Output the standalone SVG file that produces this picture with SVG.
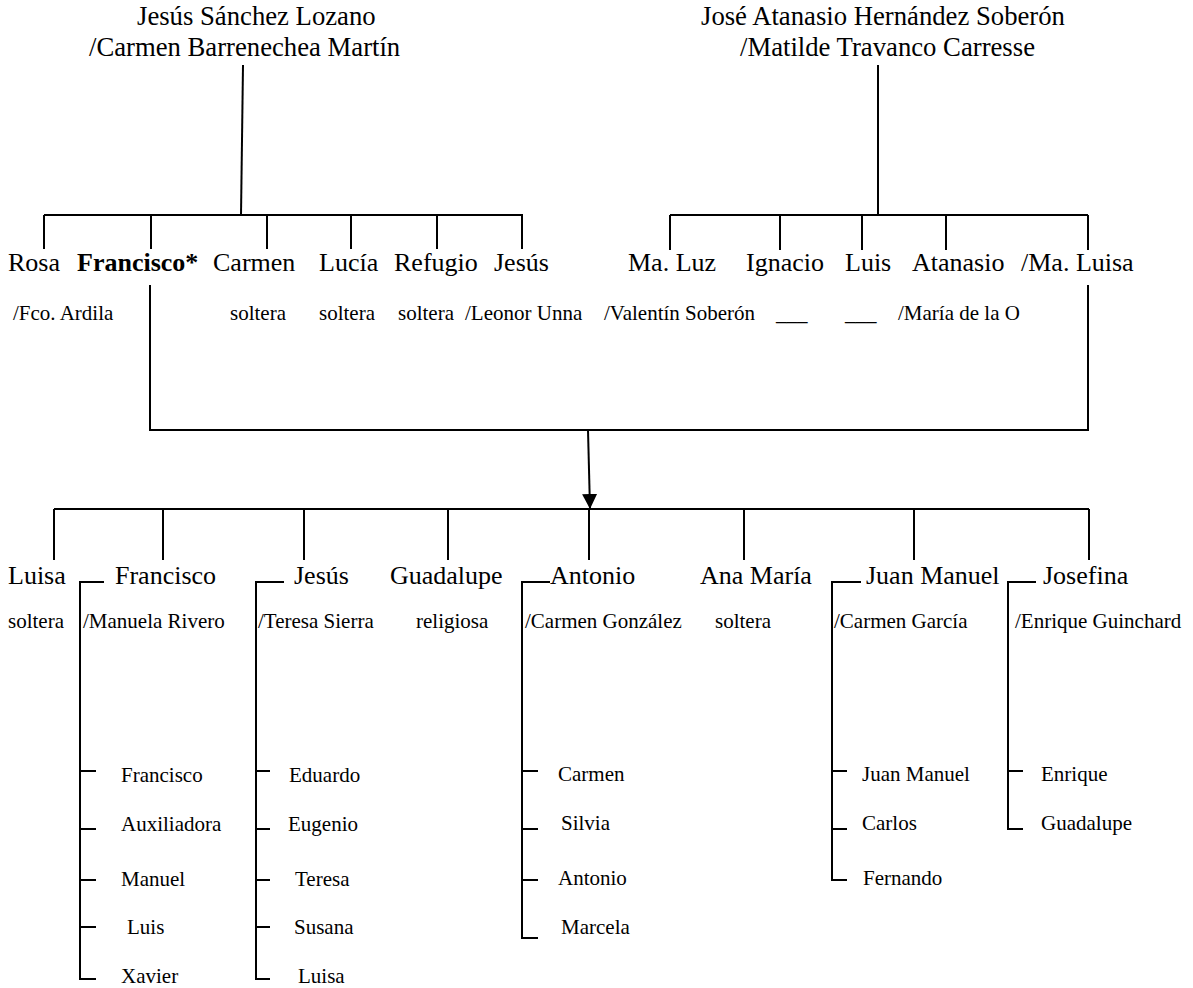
<svg xmlns="http://www.w3.org/2000/svg" width="1193" height="988" viewBox="0 0 1193 988">
<style>
text { font-family: "Liberation Serif", "Times New Roman", serif; fill: #000; }
.n { font-size: 26px; }
.t { font-size: 26.7px; }
.s { font-size: 21px; }
.b { font-weight: bold; }
.c path { fill: none; stroke: #000; stroke-width: 2; }
</style>
<defs>
<marker id="arr" markerUnits="userSpaceOnUse" markerWidth="16" markerHeight="16" refX="15" refY="8" viewBox="0 0 16 16" orient="auto">
<path d="M0,0.5 L15,8 L0,15.5 Z" fill="#000"/>
</marker>
</defs>
<rect width="1193" height="988" fill="#fff"/>
<g class="c" id="connectors">
<path d="M243,65 L241,215"/>
<path d="M44,215 H523 M44,215 V249 M151,215 V249 M267,215 V249 M351,215 V249 M437,215 V249 M522,215 V249"/>
<path d="M878,65 V215"/>
<path d="M670,215 H1088 M670,215 V250 M780,215 V250 M862,215 V250 M946,215 V250 M1088,215 V250"/>
<path d="M150,285 V430 H1088 V285"/>
<path d="M588,430 L590,509" marker-end="url(#arr)"/>
<path d="M54,509 H1089 M54,509 V560 M163,509 V560 M304,509 V560 M448,509 V560 M589,509 V560 M744,509 V560 M914,509 V560 M1089,509 V560"/>
<path d="M104,582 H80 V979 H96 M80,771 H96 M80,829 H96 M80,880 H96 M80,927 H96"/>
<path d="M284,582 H256 V979 H270 M256,771 H270 M256,829 H270 M256,880 H270 M256,927 H270"/>
<path d="M550,582 H522 V938 H538 M522,771 H538 M522,829 H538 M522,880 H538"/>
<path d="M861,582 H832 V880 H847 M832,771 H847 M832,829 H847"/>
<path d="M1036,582 H1008 V829 H1023 M1008,771 H1023"/>
</g>
<g id="root-left">
<text class="t" x="137" y="25">Jesús Sánchez Lozano</text>
<text class="t" x="89" y="56">/Carmen Barrenechea Martín</text>
</g>
<g id="root-right">
<text class="t" x="701" y="25">José Atanasio Hernández Soberón</text>
<text class="t" x="740" y="56">/Matilde Travanco Carresse</text>
</g>
<g id="g2-rosa"><text class="n" x="8" y="271">Rosa</text><text class="s" x="13" y="320">/Fco. Ardila</text></g>
<g id="g2-francisco"><text class="n b" x="77" y="271">Francisco*</text></g>
<g id="g2-carmen"><text class="n" x="213" y="271">Carmen</text><text class="s" x="230" y="320">soltera</text></g>
<g id="g2-lucia"><text class="n" x="319" y="271">Lucía</text><text class="s" x="319" y="320">soltera</text></g>
<g id="g2-refugio"><text class="n" x="394" y="271">Refugio</text><text class="s" x="398" y="320">soltera</text></g>
<g id="g2-jesus"><text class="n" x="494" y="271">Jesús</text><text class="s" x="465" y="320">/Leonor Unna</text></g>
<g id="g2-maluz"><text class="n" x="628" y="271">Ma. Luz</text><text class="s" x="604" y="320">/Valentín Soberón</text></g>
<g id="g2-ignacio"><text class="n" x="746" y="271">Ignacio</text><text class="s" x="776" y="320">___</text></g>
<g id="g2-luis"><text class="n" x="845" y="271">Luis</text><text class="s" x="845" y="320">___</text></g>
<g id="g2-atanasio"><text class="n" x="912" y="271">Atanasio</text><text class="s" x="898" y="320">/María de la O</text></g>
<g id="g2-maluisa"><text class="n" x="1021" y="271">/Ma. Luisa</text></g>
<g id="g3-luisa"><text class="n" x="8" y="584">Luisa</text><text class="s" x="8" y="628">soltera</text></g>
<g id="g3-francisco"><text class="n" x="115" y="584">Francisco</text><text class="s" x="83" y="628">/Manuela Rivero</text>
<text class="s" x="121" y="782">Francisco</text><text class="s" x="121" y="831">Auxiliadora</text><text class="s" x="121" y="886">Manuel</text><text class="s" x="127" y="934">Luis</text><text class="s" x="121" y="983">Xavier</text></g>
<g id="g3-jesus"><text class="n" x="294" y="584">Jesús</text><text class="s" x="258" y="628">/Teresa Sierra</text>
<text class="s" x="289" y="782">Eduardo</text><text class="s" x="288" y="831">Eugenio</text><text class="s" x="295" y="886">Teresa</text><text class="s" x="294" y="934">Susana</text><text class="s" x="298" y="983">Luisa</text></g>
<g id="g3-guadalupe"><text class="n" x="390" y="584">Guadalupe</text><text class="s" x="416" y="628">religiosa</text></g>
<g id="g3-antonio"><text class="n" x="550" y="584">Antonio</text><text class="s" x="525" y="628">/Carmen González</text>
<text class="s" x="558" y="781">Carmen</text><text class="s" x="561" y="830">Silvia</text><text class="s" x="558" y="885">Antonio</text><text class="s" x="561" y="934">Marcela</text></g>
<g id="g3-anamaria"><text class="n" x="700" y="584">Ana María</text><text class="s" x="715" y="628">soltera</text></g>
<g id="g3-juanmanuel"><text class="n" x="866" y="584">Juan Manuel</text><text class="s" x="834" y="628">/Carmen García</text>
<text class="s" x="862" y="781">Juan Manuel</text><text class="s" x="862" y="830">Carlos</text><text class="s" x="863" y="885">Fernando</text></g>
<g id="g3-josefina"><text class="n" x="1043" y="584">Josefina</text><text class="s" x="1015" y="628">/Enrique Guinchard</text>
<text class="s" x="1041" y="781">Enrique</text><text class="s" x="1041" y="830">Guadalupe</text></g>
</svg>
